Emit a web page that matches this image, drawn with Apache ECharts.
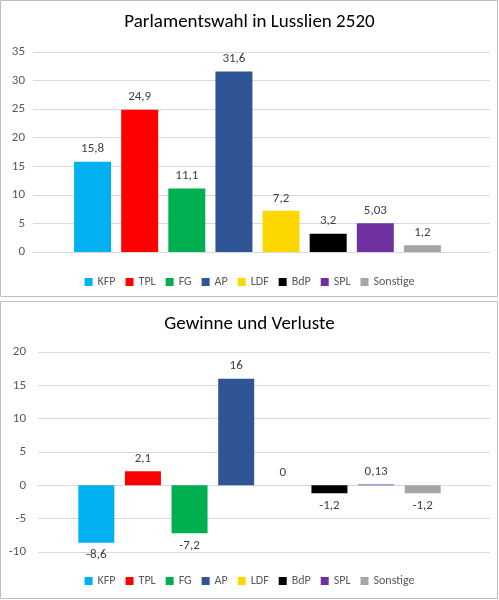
<!DOCTYPE html>
<html><head><meta charset="utf-8">
<script src="https://cdn.jsdelivr.net/npm/echarts@6/dist/echarts.min.js"></script>
<style>body{margin:0;background:#fff}#c{width:499px;height:600px}</style></head>
<body><div id="c"></div>
<script>
const parties = ['KFP','TPL','FG','AP','LDF','BdP','SPL','Sonstige'];
const colors = ['#00b0f0','#ff0000','#00b050','#2f5597','#ffd700','#000000','#7030a0','#a5a5a5'];
const votes = [15.8,24.9,11.1,31.6,7.2,3.2,5.03,1.2];
const changes = [-8.6,2.1,-7.2,16,0,-1.2,0.13,-1.2];
const voteLabels = ['15,8','24,9','11,1','31,6','7,2','3,2','5,03','1,2'];
const changeLabels = ['-8,6','2,1','-7,2','16','0','-1,2','0,13','-1,2'];
const yTop = [0,35,5];
const yBot = [-10,20,5];
const font = 'Calibri, Carlito, "Liberation Sans", sans-serif';
const series = [];
parties.forEach((p,i)=>{
  series.push({name:p,type:'bar',stack:'a',xAxisIndex:0,yAxisIndex:0,barWidth:37,itemStyle:{color:colors[i]},
    data:parties.map((_,j)=> j===i ? {value:votes[i],label:{formatter:voteLabels[i]}} : '-'),
    label:{show:true,position:'top',distance:6,color:'#404040',fontSize:13,fontFamily:font}});
  series.push({name:p,type:'bar',stack:'b',xAxisIndex:2,yAxisIndex:2,barWidth:36,itemStyle:{color:colors[i]},
    data:parties.map((_,j)=> j===i ? {value:changes[i],label:{formatter:changeLabels[i],position:changes[i]<0?'bottom':'top'}} : '-'),
    label:{show:true,distance:6,color:'#404040',fontSize:13,fontFamily:font}});
});
const axisY = (r,gi,show,m)=>({type:'value',gridIndex:gi,min:r[0],max:r[1],interval:r[2],show:true,
  axisLabel:{show:show,color:'#595959',fontSize:13,fontFamily:font,margin:m},
  splitLine:{show:show,lineStyle:{color:'#d9d9d9'}},axisLine:{show:false},axisTick:{show:false}});
const catX = gi=>({type:'category',gridIndex:gi,data:parties,axisLabel:{show:false},axisTick:{show:false},axisLine:{show:false}});
const frameX = gi=>({type:'value',gridIndex:gi,min:0,max:1,axisLabel:{show:false},axisTick:{show:false},
  splitLine:{show:false},axisLine:{show:true,onZero:true,lineStyle:{color:'#d9d9d9'}}});
const chart = echarts.init(document.getElementById('c'));
chart.setOption({
  animation:false,
  graphic:[
    {type:'rect',shape:{x:0.5,y:0.5,width:497,height:296},style:{fill:'none',stroke:'#bfbfbf'}},
    {type:'rect',shape:{x:0.5,y:301.5,width:497,height:297},style:{fill:'none',stroke:'#bfbfbf'}}
  ],
  title:[
    {text:'Parlamentswahl in Lusslien 2520',left:'center',top:8,textStyle:{fontSize:19,fontWeight:'normal',color:'#000',fontFamily:font}},
    {text:'Gewinne und Verluste',left:'center',top:310,textStyle:{fontSize:19,fontWeight:'normal',color:'#000',fontFamily:font}}
  ],
  legend:[
    {data:parties,top:271,left:'center',itemWidth:8,itemHeight:8,itemGap:10,icon:'rect',textStyle:{fontSize:12,color:'#595959',fontFamily:font}},
    {data:parties,top:570,left:'center',itemWidth:8,itemHeight:8,itemGap:10,icon:'rect',textStyle:{fontSize:12,color:'#595959',fontFamily:font}}
  ],
  grid:[
    {left:69,width:377,top:52,height:200},
    {left:33,right:9,top:52,height:200},
    {left:73,width:373,top:352,height:200},
    {left:38,right:9,top:352,height:200}
  ],
  xAxis:[catX(0),frameX(1),catX(2),frameX(3)],
  yAxis:[axisY(yTop,0,false,0),axisY(yTop,1,true,8),axisY(yBot,2,false,0),axisY(yBot,3,true,12)],
  series
});
</script></body></html>
